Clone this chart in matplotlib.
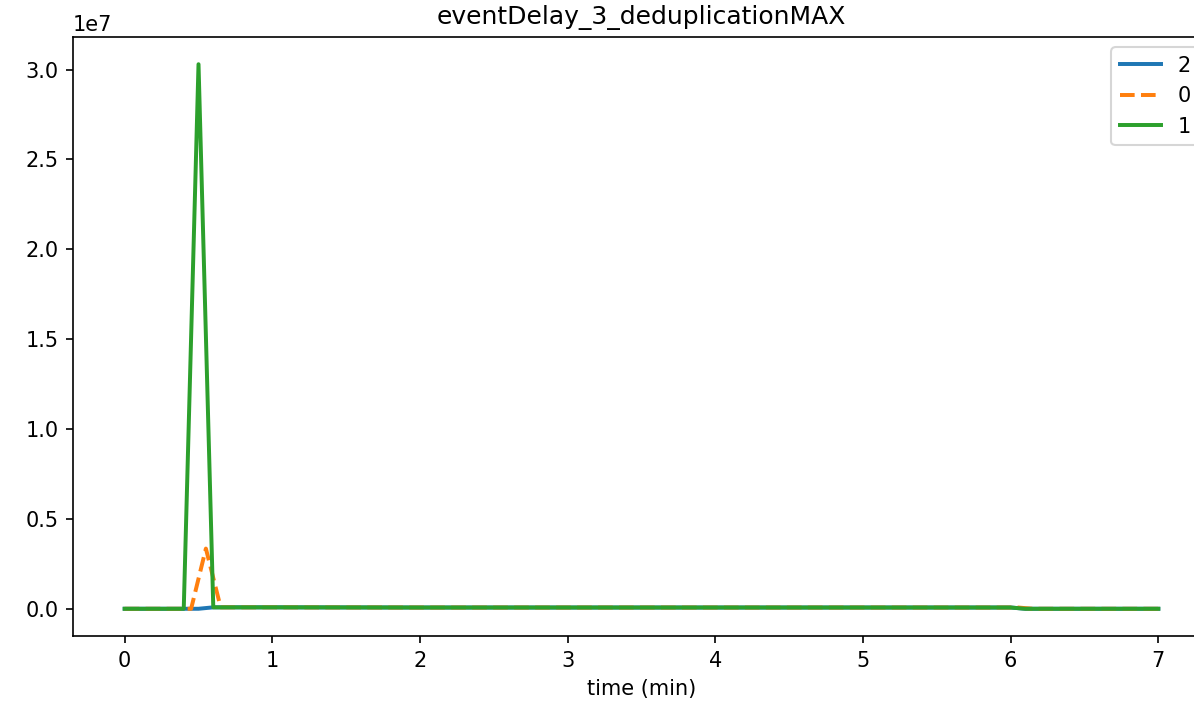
import matplotlib
matplotlib.use("Agg")
import matplotlib.pyplot as plt

# series "2"
t_2 = [0.0, 0.4, 0.5, 0.6, 1.0, 2.0, 3.0, 4.0, 5.0, 6.0, 6.1, 7.0]
v_2 = [0.0, 0.0, 0.0, 8e4, 8e4, 7e4, 7e4, 7e4, 7e4, 7e4, 0.0, 0.0]

# series "0"
t_0 = [0.0, 0.45, 0.55, 0.65, 1.0, 2.0, 3.0, 4.0, 5.0, 6.05, 6.15, 7.0]
v_0 = [0.0, 0.0, 3.35e6, 8e4, 8e4, 7e4, 7e4, 7e4, 7e4, 7e4, 0.0, 0.0]

# series "1"
t_1 = [0.0, 0.4, 0.5, 0.6, 1.0, 2.0, 3.0, 4.0, 5.0, 6.0, 6.1, 7.0]
v_1 = [0.0, 0.0, 3.03e7, 8e4, 8e4, 7e4, 7e4, 7e4, 7e4, 7e4, 0.0, 0.0]

fig = plt.figure(figsize=(1194 / 150, 705 / 150), dpi=150)
# axes runs past the right edge of the figure, as in the original crop
ax = fig.add_axes([73 / 1194, 1 - 636 / 705, (1210 - 73) / 1194, (636 - 37) / 705])

ax.plot(t_2, v_2, label="2", linewidth=1.9)
ax.plot(t_0, v_0, label="0", linestyle="--", linewidth=1.9)
ax.plot(t_1, v_1, label="1", linewidth=1.9)

ax.set_title("eventDelay_3_deduplicationMAX")
ax.set_xlabel("time (min)")
ax.legend(loc="upper right")

fig.savefig("out.png", dpi=150)
